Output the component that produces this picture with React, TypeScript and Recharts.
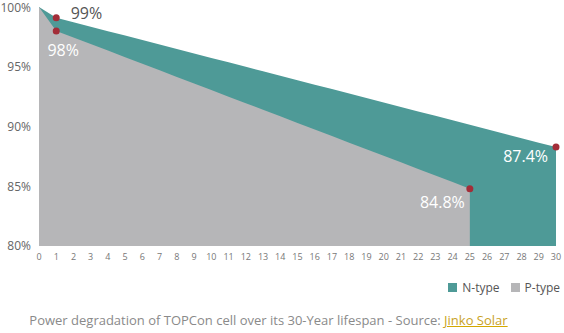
import React from "react";
import { AreaChart, Area, XAxis, YAxis, LabelList } from "recharts";

// years 0..30
const years = Array.from({ length: 31 }, (_, i) => i);
// N-type as drawn: 100 -> 99.1 after year 1, then down to ~88.3 at year 30
const nType = [
  100, 99.1, 98.73, 98.35, 97.98, 97.61, 97.23, 96.86, 96.49, 96.11, 95.74,
  95.37, 95.0, 94.62, 94.25, 93.88, 93.5, 93.13, 92.76, 92.38, 92.01,
  91.64, 91.26, 90.89, 90.52, 90.14, 89.77, 89.4, 89.02, 88.65, 88.28,
];
// P-type: 100 -> 98 after year 1, then down to 84.8 at year 25
const pType = [
  100, 98, 97.45, 96.9, 96.35, 95.8, 95.25, 94.7, 94.15, 93.6, 93.05,
  92.5, 91.95, 91.4, 90.85, 90.3, 89.75, 89.2, 88.65, 88.1, 87.55,
  87.0, 86.45, 85.9, 85.35, 84.8, null, null, null, null, null,
];
const yTicks = [80, 85, 90, 95, 100];
const nMarks = [1, 30];
const nMarkText = ["99%", "87.4%"];
const pMarks = [1, 25];
const pMarkText = ["98%", "84.8%"];
const nLabel = "N-type";
const pLabel = "P-type";

const data = years.map((y, i) => ({ year: y, n: nType[i], p: pType[i] }));

const TEAL = "#4e9a97";
const GRAY = "#b6b6b8";
const RED = "#a32d38";

const labelStyle: Record<string, { dx: number; dy: number; anchor: string; fill: string }> = {
  "n-1": { dx: 14.5, dy: -5, anchor: "start", fill: "#555" },
  "n-30": { dx: -8, dy: 9, anchor: "end", fill: "#fff" },
  "p-1": { dx: 7, dy: 19, anchor: "middle", fill: "#fff" },
  "p-25": { dx: -5, dy: 13, anchor: "end", fill: "#fff" },
};

const makeDot = (marks: number[]) => (p: any) => {
  if (!marks.includes(p.index)) return <g key={p.index} />;
  return <circle key={p.index} cx={p.cx} cy={p.cy} r={3.5} fill={RED} />;
};

const makeLabel = (key: string, marks: number[], texts: string[]) => (p: any) => {
  const k = marks.indexOf(p.index);
  if (k < 0) return null;
  const s = labelStyle[`${key}-${years[p.index]}`];
  return (
    <text
      x={p.x + s.dx}
      y={p.y + s.dy}
      textAnchor={s.anchor as any}
      dominantBaseline="central"
      fill={s.fill}
      fontSize={16}
      fontFamily="Open Sans"
    >
      {texts[k]}
    </text>
  );
};

export default function App() {
  return (
    <div style={{ position: "absolute", left: 0, top: 0, width: 564, height: 333, background: "#fff", fontFamily: "Open Sans" }}>
      <AreaChart width={564} height={266} data={data} margin={{ top: 7, right: 8, left: 0, bottom: 0 }}>
        <XAxis
          dataKey="year"
          type="number"
          domain={[0, 30]}
          ticks={years}
          interval={0}
          axisLine={false}
          tickLine={false}
          tickSize={0}
          tickMargin={8}
          height={20}
          tick={{ fontSize: 9, fill: "#777", fontFamily: "Open Sans" }}
        />
        <YAxis
          type="number"
          domain={[80, 100]}
          ticks={yTicks}
          allowDataOverflow
          axisLine={false}
          tickLine={false}
          tickSize={0}
          tickMargin={8}
          width={39}
          tickFormatter={(v) => `${v}%`}
          tick={{ fontSize: 12, fill: "#666", fontFamily: "Open Sans" }}
        />
        <Area
          type="linear"
          dataKey="n"
          name={nLabel}
          stroke="none"
          fill={TEAL}
          fillOpacity={1}
          isAnimationActive={false}
          dot={false}
          activeDot={false}
        />
        <Area
          type="linear"
          dataKey="p"
          name={pLabel}
          stroke="none"
          fill={GRAY}
          fillOpacity={1}
          isAnimationActive={false}
          dot={false}
          activeDot={false}
        />
        {/* dots + labels on top of both areas */}
        <Area
          type="linear"
          dataKey="n"
          stroke="none"
          fill="none"
          isAnimationActive={false}
          dot={makeDot(nMarks)}
          activeDot={false}
          legendType="none"
        >
          <LabelList dataKey="n" content={makeLabel("n", nMarks, nMarkText)} />
        </Area>
        <Area
          type="linear"
          dataKey="p"
          stroke="none"
          fill="none"
          isAnimationActive={false}
          dot={makeDot(pMarks)}
          activeDot={false}
          legendType="none"
        >
          <LabelList dataKey="p" content={makeLabel("p", pMarks, pMarkText)} />
        </Area>
      </AreaChart>
      <div style={{ position: "absolute", top: 279, right: 4, display: "flex", alignItems: "center", fontSize: 12, color: "#555", whiteSpace: "nowrap" }}>
        <span style={{ width: 9, height: 9, background: TEAL, display: "inline-block", marginRight: 5 }} />
        <span style={{ marginRight: 11 }}>{nLabel}</span>
        <span style={{ width: 9, height: 9, background: GRAY, display: "inline-block", marginRight: 5 }} />
        <span>{pLabel}</span>
      </div>
      <div style={{ position: "absolute", top: 311, left: 0, width: 537, textAlign: "center", fontSize: 13, color: "#8a8a8a", whiteSpace: "nowrap" }}>
        Power degradation of TOPCon cell over its 30-Year lifespan - Source:{" "}
        <span style={{ color: "#c9a21f", textDecoration: "underline", textDecorationColor: "#d4a800" }}>Jinko Solar</span>
      </div>
    </div>
  );
}
